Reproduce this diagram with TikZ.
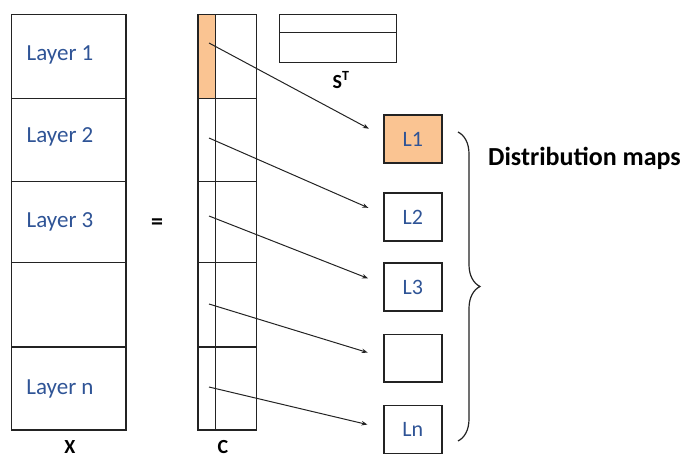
\documentclass[tikz,border=0pt]{standalone}
\usepackage{fontspec}
\setmainfont{Carlito}
\usetikzlibrary{arrows.meta,decorations.pathreplacing}
\definecolor{laybl}{RGB}{47,84,150}
\definecolor{orfill}{RGB}{250,196,146}
\definecolor{edge}{RGB}{35,35,35}
\tikzset{
  cellbox/.style={draw=edge,line width=1.5pt,inner sep=0pt,anchor=north west},
  laytext/.style={text=laybl,font=\fontsize{23}{25}\selectfont,inner sep=0pt},
  boldlab/.style={text=black,font=\fontsize{20}{22}\selectfont\bfseries,inner sep=0pt},
  arr/.style={draw=edge,line width=1pt,-{Stealth[length=6pt,width=4.5pt]},shorten >=16pt},
  mapbox/.style={cellbox,minimum width=58pt,minimum height=48pt,text=laybl,font=\fontsize{22}{24}\selectfont}
}
\begin{document}
\begin{tikzpicture}[x=1pt,y=-1pt]
\useasboundingbox (0,0) rectangle (686,457);
% X column
\node[cellbox,minimum width=114.5pt,minimum height=84pt] (x1) at (10.5,14) {};
\node[cellbox,minimum width=114.5pt,minimum height=83pt] (x2) at (10.5,98) {};
\node[cellbox,minimum width=114.5pt,minimum height=81pt] (x3) at (10.5,181) {};
\node[cellbox,minimum width=114.5pt,minimum height=84pt] (x4) at (10.5,262) {};
\node[cellbox,minimum width=114.5pt,minimum height=83pt] (x5) at (10.5,346) {};
\node[laytext] (t1) at (60,55) {Layer 1};
\node[laytext] (t2) at (60,137) {Layer 2};
\node[laytext] (t3) at (60,222) {Layer 3};
\node[laytext] (tn) at (60,389) {Layer n};
\node[boldlab] (lx) at (70,447) {X};
% equals
\node[boldlab,font=\fontsize{24}{26}\selectfont\bfseries] (eq) at (157,224) {=};
% C column
\node[cellbox,fill=orfill,minimum width=17.5pt,minimum height=84pt] (c1) at (197,14) {};
\node[cellbox,minimum width=17.5pt,minimum height=83pt] (c2) at (197,98) {};
\node[cellbox,minimum width=17.5pt,minimum height=81pt] (c3) at (197,181) {};
\node[cellbox,minimum width=17.5pt,minimum height=84pt] (c4) at (197,262) {};
\node[cellbox,minimum width=17.5pt,minimum height=83pt] (c5) at (197,346) {};
\node[cellbox,minimum width=41pt,minimum height=84pt] (d1) at (214.5,14) {};
\node[cellbox,minimum width=41pt,minimum height=83pt] (d2) at (214.5,98) {};
\node[cellbox,minimum width=41pt,minimum height=81pt] (d3) at (214.5,181) {};
\node[cellbox,minimum width=41pt,minimum height=84pt] (d4) at (214.5,262) {};
\node[cellbox,minimum width=41pt,minimum height=83pt] (d5) at (214.5,346) {};
\node[boldlab] (lc) at (223,447) {C};
% S^T
\node[cellbox,minimum width=117pt,minimum height=18pt] (s1) at (278.5,14) {};
\node[cellbox,minimum width=117pt,minimum height=30pt] (s2) at (278.5,32) {};
\node[boldlab] (ls) at (341,80) {S\textsuperscript{T}};
% distribution map boxes
\node[mapbox,fill=orfill] (L1) at (383,114.5) {L1};
\node[mapbox] (L2) at (383,192.5) {L2};
\node[mapbox] (L3) at (383,262.5) {L3};
\node[mapbox,minimum height=47pt] (L4) at (383,334) {};
\node[mapbox] (Ln) at (383,404.5) {Ln};
% arrow start points
\coordinate (a1) at (209,43);
\coordinate (a2) at (209,138);
\coordinate (a3) at (209,216);
\coordinate (a4) at (209,304);
\coordinate (a5) at (209,387);
\draw[arr] (a1) -- ([yshift=3pt]L1.west);
\draw[arr] (a2) -- ([yshift=3pt]L2.west);
\draw[arr] (a3) -- ([yshift=3pt]L3.west);
\draw[arr] (a4) -- ([yshift=1pt]L4.west);
\draw[arr] (a5) -- ([yshift=1pt]Ln.west);
% brace
\coordinate (b1) at (458,132);
\coordinate (b2) at (458,441);
\draw[draw=edge,line width=1.2pt,decorate,decoration={brace,amplitude=22pt,aspect=0.5}] (b1) -- (b2);
\node[text=black,font=\fontsize{26}{28}\selectfont\bfseries,anchor=west,inner sep=0pt] (dm) at (488,158) {Distribution maps};
\end{tikzpicture}
\end{document}
